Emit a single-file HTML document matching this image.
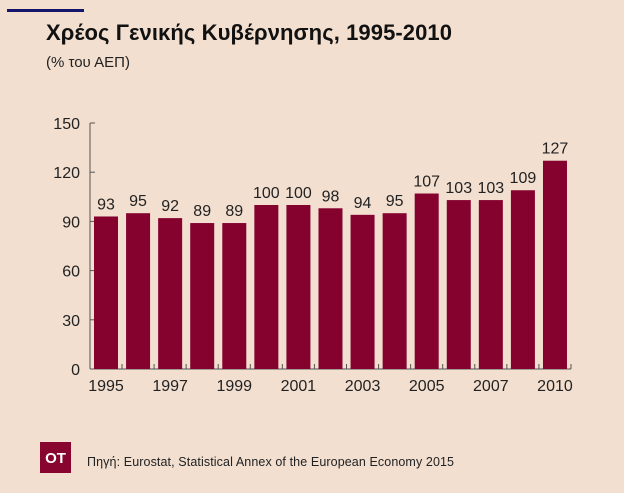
<!DOCTYPE html>
<html><head><meta charset="utf-8"><style>
body{margin:0;background:#f2dfd0;width:624px;height:493px;overflow:hidden;font-family:"Liberation Sans",sans-serif}
</style></head><body>
<svg width="624" height="493" style="display:block">
<rect x="0" y="0" width="624" height="493" fill="#f2dfd0"/>
<rect x="7" y="9" width="77" height="3" fill="#15156b"/>
<text x="46" y="40" font-size="22" font-weight="bold" fill="#111" textLength="406">Χρέος Γενικής Κυβέρνησης, 1995-2010</text>
<text x="46" y="67" font-size="15" fill="#222">(% του ΑΕΠ)</text>
<g id="plot"></g>
<rect x="40" y="442" width="31" height="31" fill="#87052f"/>
<text x="55.5" y="463" font-size="15" font-weight="bold" fill="#fff" text-anchor="middle">OT</text>
<text x="87" y="466" font-size="12.5" fill="#222" textLength="367">Πηγή: Eurostat, Statistical Annex of the European Economy 2015</text>
</svg>
<script>
const categories=["1995","1996","1997","1998","1999","2000","2001","2002","2003","2004","2005","2006","2007","2008","2010"];
const values=[93,95,92,89,89,100,100,98,94,95,107,103,103,109,127];
const yTicks=[0,30,60,90,120,150];
const xLabels=["1995","1997","1999","2001","2003","2005","2007","2010"];
const NS="http://www.w3.org/2000/svg";
const g=document.getElementById('plot');
const x0=94,step=32.07,bw=24,base=369,ymax=150,ph=246;
const y=v=>base-v/ymax*ph;
const xb=i=>x0+i*step;
function mk(t,a){const e=document.createElementNS(NS,t);for(const k in a)e.setAttribute(k,a[k]);g.appendChild(e);return e;}
let e=mk('line',{x1:90,y1:y(150),x2:90,y2:base,stroke:'#555','stroke-width':1});


e=mk('line',{x1:90,y1:base,x2:xb(categories.length-1)+bw+4,y2:base,stroke:'#555','stroke-width':1});


yTicks.forEach(v=>{
 const t=mk('line',{x1:90,y1:y(v),x2:95,y2:y(v),stroke:'#555'});
 
 
 const l=mk('text',{x:80,y:y(v)+6,'font-size':16,fill:'#222','text-anchor':'end'});l.textContent=v;
 
 
});
values.forEach((v,i)=>{
 const r=mk('rect',{x:xb(i),y:y(v),width:bw,height:base-y(v),fill:'#85022f'});
 
 
 const l=mk('text',{x:xb(i)+bw/2,y:y(v)-7,'font-size':16,fill:'#222','text-anchor':'middle'});l.textContent=v;
 
 
 const tk=mk('line',{x1:xb(i)+bw+4,y1:base-5,x2:xb(i)+bw+4,y2:base,stroke:'#555'});
 
 
 if(xLabels.includes(categories[i])){
  const xl=mk('text',{x:xb(i)+bw/2,y:base+22,'font-size':16,fill:'#222','text-anchor':'middle'});xl.textContent=categories[i];
  
  
 }
});
</script>
</body></html>
